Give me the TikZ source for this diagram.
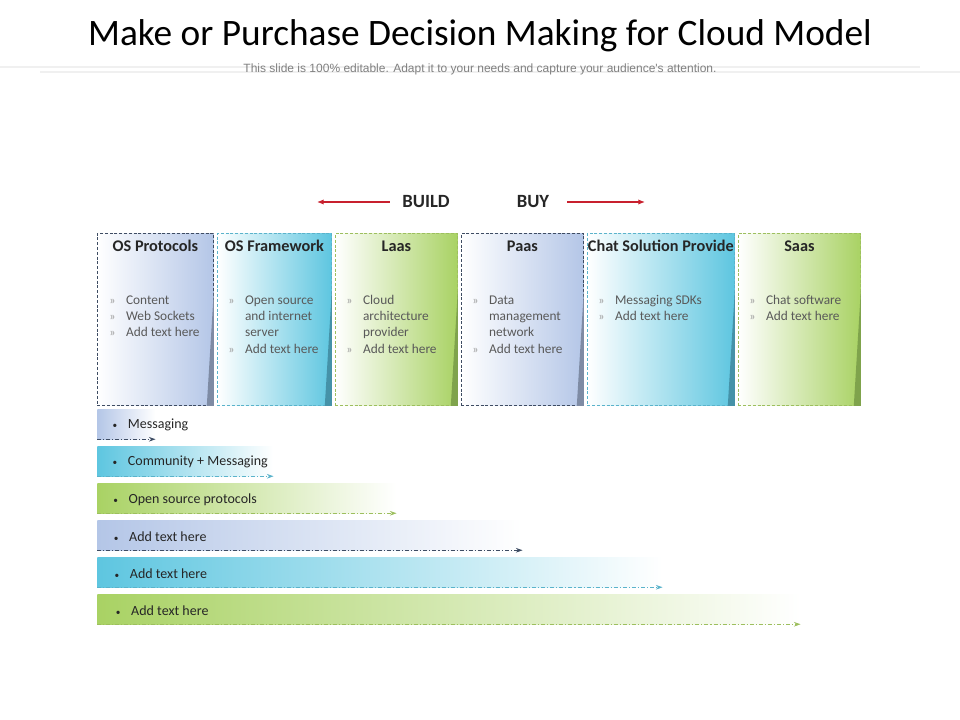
\documentclass[tikz,border=0pt]{standalone}
\usepackage{fontspec}
\setmainfont{Carlito}
\newfontfamily\subfont{Liberation Sans}
\usepackage{tikz}
\usetikzlibrary{positioning,arrows.meta,calc}
\definecolor{bluec}{HTML}{B4C6E7}
\definecolor{bluedk}{HTML}{7E8BA4}
\definecolor{blueln}{HTML}{3E4C63}
\definecolor{cyanc}{HTML}{5EC6E0}
\definecolor{cyandk}{HTML}{4592A8}
\definecolor{cyanln}{HTML}{5AB3CB}
\definecolor{greenc}{HTML}{A9D264}
\definecolor{greendk}{HTML}{7FA34C}
\definecolor{greenln}{HTML}{9DBF5E}
\definecolor{redar}{HTML}{C8202E}
\definecolor{txt}{HTML}{595959}
\definecolor{ink}{HTML}{262626}
\definecolor{rulec}{HTML}{F0F0F0}
\tikzset{
  col/.style 2 args={rectangle,draw=#2,dash pattern=on 2.2pt off 1.4pt,line width=0.6pt,
    left color=white,right color=#1,minimum height=129pt,inner sep=0pt},
  bar/.style={rectangle,left color=#1,right color=white,minimum height=22.5pt,
    inner sep=0pt,anchor=west},
  bln/.style={draw=#1,line width=0.7pt,dash pattern=on 3pt off 1.5pt on 0.8pt off 1.5pt,
    -{Stealth[length=5pt,width=3.5pt]}},
  hd/.style={font=\fontsize{14}{16}\selectfont\bfseries,text=ink},
  hdr/.style={font=\fontsize{12.2}{14}\selectfont\bfseries,text=ink,inner sep=0pt},
  lst/.style={font=\fontsize{10}{12}\selectfont,text=txt,anchor=base west,inner sep=0pt},
  btx/.style={font=\fontsize{10.5}{12}\selectfont,text=ink,anchor=west,inner sep=0pt,yshift=-1pt},
  sub/.style={font=\subfont\fontsize{9}{10}\selectfont,text=black!50},
  rar/.style={-{Latex[length=5pt,width=4pt]},line width=0.9pt,draw=redar},
  rul/.style={line width=2pt,draw=rulec},
}
\newcommand{\li}{\textcolor{black!40}{\small »}}
\newcommand{\dotb}{{\scriptsize\textbullet}\hspace{8pt}}

\begin{document}
\begin{tikzpicture}[x=0.75pt,y=-0.75pt,node distance=2.4pt,font=\small]
  \useasboundingbox (0,0) rectangle (960,720);
  \draw[rul] (0,67) -- (920,67);
  \draw[rul] (40,72) -- (960,72);
  \node[font=\fontsize{28}{32}\selectfont] (ttl) at (480,36) {Make or Purchase Decision Making for Cloud Model};
  \node[sub] (st) at (480,69) {This slide is 100\% editable. Adapt it to your needs and capture your audience's attention.};
  \node[hd] (bd) at (426,202) {BUILD};
  \node[hd] (by) at (533,202) {BUY};
  \coordinate (bl) at (317,202);
  \coordinate (br) at (645,202);
  \draw[rar,shorten <=6pt] (bd.west) -- (bl);
  \draw[rar,shorten <=10pt] (by.east) -- (br);
  \node[col={bluec}{blueln},minimum width=87pt,anchor=north west] (a) at (97,233) {};
  \node[col={cyanc}{cyanln},minimum width=85.5pt,right=of a] (b) {};
  \node[col={greenc}{greenln},minimum width=91.5pt,right=of b] (c) {};
  \node[col={bluec}{blueln},minimum width=91.5pt,right=of c] (d) {};
  \node[col={cyanc}{cyanln},minimum width=110.25pt,right=of d] (e) {};
  \node[col={greenc}{greenln},minimum width=91.5pt,right=of e] (f) {};
  \fill[bluedk] ($(a.south east)+(0,-115)$) -- (a.south east) -- ++(-7,0) -- cycle;
  \fill[cyandk] ($(b.south east)+(0,-115)$) -- (b.south east) -- ++(-7,0) -- cycle;
  \fill[greendk] ($(c.south east)+(0,-115)$) -- (c.south east) -- ++(-7,0) -- cycle;
  \fill[bluedk] ($(d.south east)+(0,-115)$) -- (d.south east) -- ++(-7,0) -- cycle;
  \fill[cyandk] ($(e.south east)+(0,-115)$) -- (e.south east) -- ++(-7,0) -- cycle;
  \fill[greendk] ($(f.south east)+(0,-115)$) -- (f.south east) -- ++(-7,0) -- cycle;
  \node[hdr] (ta) at ($(a.north)+(0,13)$) {OS Protocols};
  \node[hdr] (tb) at ($(b.north)+(0,13)$) {OS Framework};
  \node[hdr] (tc) at ($(c.north)+(0,13)$) {Laas};
  \node[hdr] (td) at ($(d.north)+(0,13)$) {Paas};
  \node[hdr] (te) at ($(e.north)+(0,13)$) {Chat Solution Provide};
  \node[hdr] (tf) at ($(f.north)+(0,13)$) {Saas};
  \node[lst] (la) at ($(a.north west)+(12,72)$) {\begin{tabular}[t]{@{}l@{\hspace{8pt}}l@{}}\li & Content\\ \li & Web Sockets\\ \li & Add text here\end{tabular}};
  \node[lst] (lb) at ($(b.north west)+(11,72)$) {\begin{tabular}[t]{@{}l@{\hspace{8pt}}l@{}}\li & Open source\\ & and internet\\ & server\\ \li & Add text here\end{tabular}};
  \node[lst] (lc) at ($(c.north west)+(11,72)$) {\begin{tabular}[t]{@{}l@{\hspace{8pt}}l@{}}\li & Cloud\\ & architecture\\ & provider\\ \li & Add text here\end{tabular}};
  \node[lst] (ld) at ($(d.north west)+(11,72)$) {\begin{tabular}[t]{@{}l@{\hspace{8pt}}l@{}}\li & Data\\ & management\\ & network\\ \li & Add text here\end{tabular}};
  \node[lst] (le) at ($(e.north west)+(11,72)$) {\begin{tabular}[t]{@{}l@{\hspace{8pt}}l@{}}\li & Messaging SDKs\\ \li & Add text here\end{tabular}};
  \node[lst] (lf) at ($(f.north west)+(11,72)$) {\begin{tabular}[t]{@{}l@{\hspace{8pt}}l@{}}\li & Chat software\\ \li & Add text here\end{tabular}};
  \node[bar=bluec,minimum width=43.5pt] (m1) at (97,424) {};
  \node[btx,right=11.5pt of m1.west] (x1) {\dotb Messaging};
  \draw[bln=blueln] (m1.south west) -- (m1.south east);
  \node[bar=cyanc,minimum width=132pt] (m2) at (97,461) {};
  \node[btx,right=11.5pt of m2.west] (x2) {\dotb Community + Messaging};
  \draw[bln=cyanln] (m2.south west) -- (m2.south east);
  \node[bar=greenc,minimum width=224.25pt] (m3) at (97,498) {};
  \node[btx,right=12pt of m3.west] (x3) {\dotb Open source protocols};
  \draw[bln=greenln] (m3.south west) -- (m3.south east);
  \node[bar=bluec,minimum width=318.75pt] (m4) at (97,535) {};
  \node[btx,right=12.5pt of m4.west] (x4) {\dotb Add text here};
  \draw[bln=blueln] (m4.south west) -- (m4.south east);
  \node[bar=cyanc,minimum width=423.75pt] (m5) at (97,572) {};
  \node[btx,right=13pt of m5.west] (x5) {\dotb Add text here};
  \draw[bln=cyanln] (m5.south west) -- (m5.south east);
  \node[bar=greenc,minimum width=527.25pt] (m6) at (97,609) {};
  \node[btx,right=14pt of m6.west] (x6) {\dotb Add text here};
  \draw[bln=greenln] (m6.south west) -- (m6.south east);
\end{tikzpicture}
\end{document}
